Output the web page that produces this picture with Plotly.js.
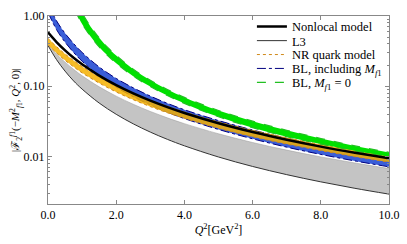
<!DOCTYPE html>
<html>
<head>
<meta charset="utf-8">
<script src="https://cdn.plot.ly/plotly-3.0.1.min.js"></script>
<style>html,body{margin:0;padding:0;background:#fff;}#chart{width:407px;height:244px;}</style>
</head>
<body>
<div id="chart"></div>
<script>
// Q^2 grid [GeV^2]
const q2 = [0, 0.25, 0.5, 0.75, 1, 1.5, 2, 2.5, 3, 3.5, 4, 5, 6, 7, 8, 9, 10];
// Nonlocal model
const nonlocal = [0.585, 0.426, 0.324, 0.254, 0.205, 0.1415, 0.1034, 0.0789, 0.0622, 0.0503, 0.0415, 0.0296, 0.0222, 0.01725, 0.01379, 0.01128, 0.0094];
// L3 band
const l3Upper = [0.390, 0.287, 0.220, 0.174, 0.141, 0.0982, 0.0722, 0.0553, 0.0437, 0.0354, 0.0293, 0.0210, 0.01578, 0.01229, 0.00984, 0.00806, 0.00672];
const l3Lower = [0.380, 0.239, 0.164, 0.119, 0.0909, 0.0576, 0.0398, 0.0291, 0.0222, 0.0175, 0.01416, 0.00981, 0.00719, 0.0055, 0.00434, 0.00351, 0.0029];
// NR quark model band
const nrUpper = [0.481, 0.366, 0.288, 0.232, 0.191, 0.136, 0.102, 0.0791, 0.0631, 0.0516, 0.0429, 0.0311, 0.0235, 0.0184, 0.0148, 0.0122, 0.0102];
const nrLower = [0.391, 0.298, 0.234, 0.189, 0.155, 0.111, 0.0828, 0.0643, 0.0513, 0.0419, 0.0349, 0.0252, 0.0191, 0.0150, 0.0121, 0.00991, 0.00829];
// BL, including M_f1 band
const blIncUpper = [1.50, 0.855, 0.566, 0.405, 0.303, 0.188, 0.129, 0.0948, 0.0723, 0.0570, 0.0462, 0.0324, 0.0238, 0.0181, 0.01425, 0.01151, 0.00949];
const blIncLower = [1.125, 0.640, 0.424, 0.303, 0.227, 0.141, 0.0969, 0.0709, 0.0541, 0.0426, 0.0346, 0.0242, 0.0178, 0.01355, 0.01067, 0.00862, 0.0071];
// BL, M_f1 = 0 band
const q2Zero = [0.8, 0.9, 1, 1.25, 1.5, 1.75, 2, 2.5, 3, 3.5, 4, 5, 6, 7, 8, 9, 10];
const blZeroUpper = [1.71, 1.363, 1.104, 0.705, 0.488, 0.357, 0.274, 0.175, 0.122, 0.0898, 0.0693, 0.0451, 0.0318, 0.0235, 0.0180, 0.0141, 0.0114];
const blZeroLower = [1.18, 0.943, 0.772, 0.511, 0.363, 0.273, 0.212, 0.139, 0.0989, 0.0736, 0.0569, 0.0367, 0.0257, 0.0191, 0.0150, 0.0120, 0.00989];

const xTicks = [0, 2, 4, 6, 8, 10];
const xTickText = ['0.0', '2.0', '4.0', '6.0', '8.0', '10.0'];
const yTicks = [0.01, 0.1, 1];
const yTickText = ['0.01', '0.10', '1.00'];
const yMinor = [0.003,0.004,0.005,0.006,0.007,0.008,0.009,0.02,0.03,0.04,0.05,0.06,0.07,0.08,0.09,0.2,0.3,0.4,0.5,0.6,0.7,0.8,0.9];

const SERIF = 'Liberation Serif';

const traces = [
  // L3 band
  {x: q2, y: l3Lower, mode: 'lines', line: {color: '#333', width: 1, shape: 'spline'}, name: 'L3', legend: 'legend2'},
  {x: q2, y: l3Upper, mode: 'lines', line: {color: '#999', width: 0.5, shape: 'spline'}, fill: 'tonexty', fillcolor: '#c4c4c4', showlegend: false},
  // BL including
  {x: q2, y: blIncLower, mode: 'lines', line: {color: '#000080', width: 1, dash: 'dashdot', shape: 'spline'}, name: 'BL, including <i>M</i><sub><i>f</i>1</sub>', legend: 'legend4'},
  {x: q2, y: blIncUpper, mode: 'lines', line: {color: '#000080', width: 1, dash: 'dashdot', shape: 'spline'}, fill: 'tonexty', fillcolor: '#3a5ed8', showlegend: false},
  // NR quark
  {x: q2, y: nrLower, mode: 'lines', line: {color: '#d08a1a', width: 1, dash: 'dot', shape: 'spline'}, name: 'NR quark model', legend: 'legend3'},
  {x: q2, y: nrUpper, mode: 'lines', line: {color: '#d08a1a', width: 1, dash: 'dot', shape: 'spline'}, fill: 'tonexty', fillcolor: 'rgba(245,176,0,0.85)', showlegend: false},
  // BL Mf1 = 0
  {x: q2Zero, y: blZeroLower, mode: 'lines', line: {color: '#22c022', width: 1.2, dash: 'dash', shape: 'spline'}, name: 'BL, <i>M</i><sub><i>f</i>1</sub> = 0', legend: 'legend5'},
  {x: q2Zero, y: blZeroUpper, mode: 'lines', line: {color: '#22c022', width: 1.2, dash: 'dash', shape: 'spline'}, fill: 'tonexty', fillcolor: '#00e000', showlegend: false},
  // Nonlocal
  {x: q2, y: nonlocal, mode: 'lines', line: {color: '#000', width: 2.5, shape: 'spline'}, name: 'Nonlocal model', legend: 'legend'}
];

const axisCommon = {
  showgrid: false, zeroline: false, showline: true, linecolor: '#888', linewidth: 1,
  mirror: 'ticks', ticks: 'inside', tickcolor: '#888', tickwidth: 1, ticklen: 4,
  tickfont: {family: SERIF, size: 12, color: '#000'}
};

function leg(yc) {
  return {x: 0.598, y: yc, xanchor: 'left', yanchor: 'middle', bgcolor: 'rgba(255,255,255,0)', borderwidth: 0,
          font: {family: SERIF, size: 12.5, color: '#000'}, itemwidth: 30, traceorder: 'normal'};
}

const layout = {
  width: 407, height: 244,
  margin: {l: 48, r: 18, t: 12, b: 40},
  paper_bgcolor: '#fff', plot_bgcolor: '#fff',
  font: {family: SERIF, size: 12, color: '#000'},
  showlegend: true,
  legend: leg(0.9427),
  legend2: leg(0.8670),
  legend3: leg(0.7930),
  legend4: leg(0.7191),
  legend5: leg(0.6451),
  xaxis: Object.assign({}, axisCommon, {
    range: [0, 10], tickvals: xTicks, ticktext: xTickText,
    title: {text: '<i>Q</i><sup>2</sup>[GeV<sup>2</sup>]', font: {family: SERIF, size: 12, color: '#000'}, standoff: 4}
  }),
  yaxis: Object.assign({}, axisCommon, {
    type: 'log', range: [-2.678, 0], tickvals: yTicks, ticktext: yTickText,
    minor: {tickvals: yMinor, ticks: 'inside', ticklen: 2, tickcolor: '#888', showgrid: false},
    title: {text: '|ℱ<sub>2</sub><sup><i>f</i>1</sup>(−<i>M</i><sup>2</sup><sub><i>f</i>1</sub>, <i>Q</i><sup>2</sup>, 0)|', font: {family: SERIF, size: 11, color: '#000'}, standoff: 1}
  })
};

Plotly.newPlot('chart', traces, layout, {staticPlot: true, displayModeBar: false});
</script>
</body>
</html>
